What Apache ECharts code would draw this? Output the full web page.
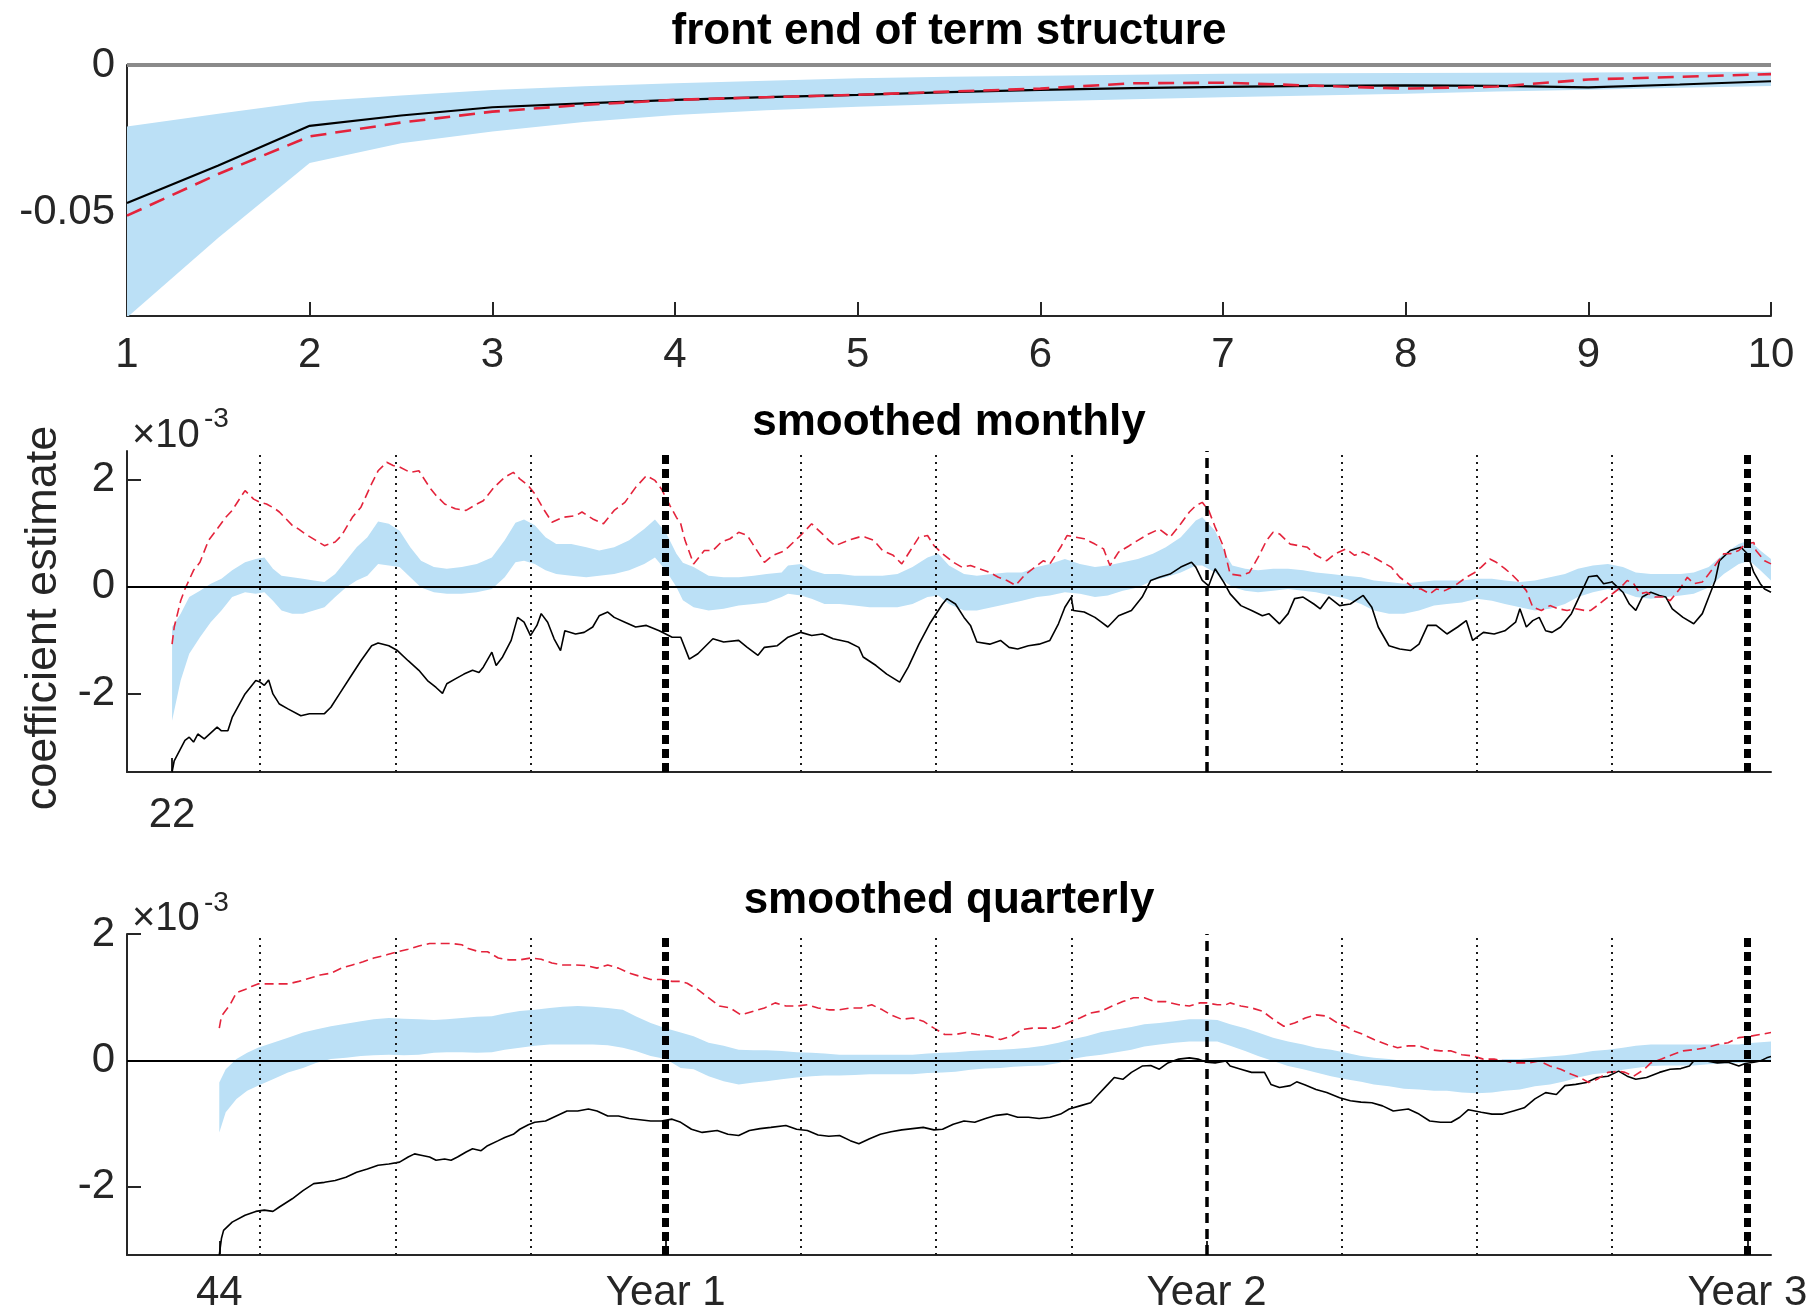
<!DOCTYPE html>
<html><head><meta charset="utf-8">
<script src="https://cdn.jsdelivr.net/npm/echarts@6/dist/echarts.min.js"></script>
<style>html,body{margin:0;padding:0;background:#fff}#c{width:1816px;height:1316px}</style>
</head><body><div id="c"></div>
<script>
// ---------- DATA ----------
// Panel 1: front end of term structure (x = maturity)
const termMaturity = [1, 1.5, 2, 2.5, 3, 3.5, 4, 4.5, 5, 5.5, 6, 6.5, 7, 7.5, 8, 8.5, 9, 9.5, 10];
const termBlack    = [-0.0467,-0.0340,-0.0206,-0.0171,-0.0143,-0.0130,-0.0118,-0.0109,-0.0101,-0.0092,-0.0084,-0.0078,-0.0074,-0.0071,-0.0069,-0.0071,-0.0076,-0.0066,-0.0055];
const termRed      = [-0.0510,-0.0369,-0.0242,-0.0195,-0.0158,-0.0135,-0.0118,-0.0109,-0.0101,-0.0090,-0.0080,-0.0062,-0.0060,-0.0070,-0.0080,-0.0073,-0.0049,-0.0040,-0.0031];
const termBandHigh = [-0.0208,-0.0165,-0.0124,-0.0103,-0.0085,-0.0072,-0.0062,-0.0053,-0.0045,-0.0040,-0.0036,-0.0033,-0.0030,-0.0028,-0.0027,-0.0026,-0.0025,-0.0024,-0.0023];
const termBandLow  = [-0.0855,-0.0585,-0.0332,-0.0265,-0.0225,-0.0193,-0.0169,-0.0153,-0.0141,-0.0132,-0.0124,-0.0116,-0.0109,-0.0103,-0.0097,-0.0090,-0.0084,-0.0077,-0.0071];
const termTicksY = [0, -0.05];

// Panel 2: smoothed monthly, [day, value x1e-3]
const monthlyBlack = [[22,-3.46],[23,-3.25],[28,-2.87],[30,-2.81],[32,-2.90],[34,-2.75],[37,-2.84],[43,-2.62],[45,-2.69],[48,-2.69],
[50,-2.44],[56,-2.00],[61,-1.75],[63,-1.78],[65,-1.84],[67,-1.74],[69,-2.00],[72,-2.19],[76,-2.28],[82,-2.41],
[86,-2.37],[93,-2.37],[96,-2.25],[100,-2.00],[105,-1.69],[110,-1.38],[115,-1.10],[118,-1.05],[123,-1.10],[127,-1.19],
[132,-1.38],[137,-1.56],[141,-1.75],[145,-1.88],[148,-1.99],[150,-1.81],[154,-1.72],[158,-1.63],[162,-1.56],[165,-1.60],
[167,-1.50],[171,-1.22],[173,-1.47],[176,-1.31],[180,-1.00],[183,-0.57],[186,-0.66],[189,-0.91],[192,-0.72],[194,-0.50],
[197,-0.66],[200,-0.97],[203,-1.19],[205,-0.82],[210,-0.88],[214,-0.85],[218,-0.75],[221,-0.54],[225,-0.47],[228,-0.57],
[233,-0.66],[238,-0.75],[243,-0.72],[249,-0.82],[252,-0.88],[255,-0.94],[259,-0.94],[263,-1.35],[267,-1.25],[274,-0.97],
[279,-1.03],[286,-1.00],[290,-1.13],[295,-1.28],[298,-1.13],[304,-1.10],[309,-0.94],[315,-0.85],[320,-0.91],[325,-0.88],
[330,-0.97],[337,-1.03],[342,-1.13],[344,-1.31],[350,-1.47],[355,-1.63],[361,-1.78],[365,-1.50],[370,-1.07],[375,-0.69],
[381,-0.32],[383,-0.22],[387,-0.32],[391,-0.57],[394,-0.72],[397,-1.03],[403,-1.07],[408,-1.00],[412,-1.13],[416,-1.16],
[421,-1.10],[426,-1.07],[431,-1.00],[435,-0.69],[438,-0.38],[441,-0.19],[442,-0.44],[447,-0.47],[452,-0.57],[455,-0.66],
[458,-0.75],[463,-0.54],[469,-0.44],[474,-0.19],[478,0.12],[482,0.18],[487,0.24],[492,0.37],[497,0.46],[499,0.37],
[502,0.12],[505,0.02],[508,0.34],[512,0.09],[515,-0.13],[520,-0.35],[525,-0.44],[530,-0.54],[533,-0.50],[538,-0.69],
[542,-0.50],[545,-0.22],[549,-0.19],[554,-0.32],[557,-0.41],[561,-0.19],[566,-0.35],[571,-0.32],[577,-0.16],[581,-0.38],
[584,-0.75],[589,-1.10],[594,-1.16],[599,-1.19],[603,-1.07],[607,-0.72],[611,-0.72],[616,-0.88],[621,-0.75],[625,-0.63],
[628,-1.00],[633,-0.85],[638,-0.88],[643,-0.82],[648,-0.66],[650,-0.41],[653,-0.75],[656,-0.63],[659,-0.57],[662,-0.82],
[665,-0.85],[669,-0.75],[674,-0.50],[679,-0.07],[682,0.19],[686,0.21],[689,0.06],[693,0.09],[698,-0.10],[701,-0.32],
[704,-0.44],[707,-0.19],[711,-0.10],[715,-0.16],[718,-0.19],[721,-0.41],[726,-0.57],[731,-0.69],[735,-0.50],[738,-0.19],
[741,0.12],[743,0.49],[748,0.68],[753,0.74],[756,0.62],[759,0.27],[762,0.06],[764,-0.04],[767,-0.10]];

const monthlyRed = [[22,-1.07],[23,-0.75],[26,-0.26],[28,-0.04],[32,0.31],[35,0.46],[39,0.87],[43,1.08],[47,1.30],[50,1.43],
[54,1.68],[56,1.80],[60,1.64],[63,1.58],[66,1.55],[70,1.46],[72,1.40],[78,1.15],[81,1.08],[84,0.99],
[89,0.87],[93,0.77],[98,0.84],[101,0.96],[106,1.30],[110,1.49],[115,1.93],[118,2.17],[122,2.33],[125,2.27],
[128,2.24],[133,2.14],[137,2.17],[142,1.86],[145,1.71],[149,1.55],[154,1.46],[159,1.43],[164,1.55],[167,1.61],
[172,1.86],[177,2.05],[181,2.14],[184,2.02],[188,1.89],[191,1.74],[195,1.46],[199,1.21],[204,1.30],[210,1.33],
[213,1.40],[218,1.27],[223,1.18],[228,1.43],[233,1.58],[238,1.86],[243,2.08],[247,1.99],[250,1.83],[254,1.52],
[257,1.30],[259,1.18],[261,0.87],[265,0.43],[270,0.68],[274,0.68],[278,0.84],[282,0.90],[286,1.02],[290,0.96],
[295,0.65],[298,0.46],[302,0.59],[306,0.65],[309,0.74],[314,0.93],[317,1.05],[320,1.18],[325,0.99],[328,0.87],
[331,0.77],[337,0.87],[342,0.93],[345,0.93],[349,0.87],[353,0.68],[358,0.59],[362,0.43],[366,0.68],[370,0.93],
[374,0.96],[377,0.77],[381,0.62],[386,0.46],[390,0.37],[394,0.40],[398,0.34],[403,0.27],[407,0.18],[411,0.12],
[415,0.03],[419,0.21],[424,0.37],[428,0.49],[431,0.43],[436,0.74],[439,0.96],[443,0.93],[447,0.90],[452,0.80],
[456,0.71],[459,0.40],[463,0.65],[468,0.77],[472,0.87],[477,0.99],[482,1.08],[487,0.93],[492,1.18],[496,1.40],
[499,1.52],[502,1.58],[505,1.43],[508,1.12],[512,0.74],[515,0.24],[520,0.21],[524,0.27],[528,0.55],[532,0.87],
[535,1.02],[538,0.99],[543,0.80],[547,0.77],[551,0.74],[555,0.59],[560,0.49],[564,0.62],[569,0.71],[573,0.59],
[577,0.65],[582,0.55],[586,0.46],[590,0.37],[594,0.18],[598,0.06],[601,-0.04],[604,-0.04],[608,-0.13],[611,-0.04],
[615,-0.07],[618,-0.01],[621,0.06],[625,0.18],[629,0.27],[632,0.37],[636,0.52],[639,0.46],[643,0.34],[646,0.24],
[649,0.12],[653,-0.07],[656,-0.38],[660,-0.44],[664,-0.35],[668,-0.41],[672,-0.44],[676,-0.41],[680,-0.44],[683,-0.44],
[687,-0.32],[691,-0.19],[694,-0.10],[697,-0.01],[700,0.12],[703,0.06],[706,-0.13],[709,-0.10],[713,-0.19],[717,-0.19],
[720,-0.26],[725,-0.01],[728,0.18],[731,0.06],[735,0.09],[738,0.24],[742,0.46],[745,0.62],[748,0.62],[752,0.68],
[755,0.80],[759,0.83],[760,0.68],[764,0.49],[767,0.43]];

// [day, lower, upper]
const monthlyBand = [[22,-2.50,-0.75],[26,-1.75,-0.50],[30,-1.25,-0.19],[35,-0.94,-0.07],[40,-0.66,0.06],[45,-0.44,0.15],
[50,-0.19,0.31],[56,-0.10,0.46],[61,-0.13,0.52],[65,-0.10,0.55],[69,-0.26,0.34],[73,-0.44,0.21],[78,-0.50,0.18],
[83,-0.50,0.15],[88,-0.44,0.12],[93,-0.38,0.09],[98,-0.19,0.24],[103,-0.01,0.49],[108,0.12,0.74],[113,0.21,0.93],
[118,0.43,1.22],[123,0.40,1.18],[128,0.37,1.05],[133,0.18,0.74],[138,-0.01,0.49],[144,-0.10,0.37],[150,-0.13,0.34],
[157,-0.13,0.37],[164,-0.10,0.43],[171,-0.04,0.55],[177,0.18,0.87],[182,0.46,1.20],[186,0.49,1.26],[191,0.43,1.15],
[196,0.31,0.93],[201,0.24,0.80],[208,0.21,0.80],[215,0.18,0.74],[221,0.21,0.68],[228,0.24,0.74],[235,0.31,0.87],
[242,0.43,1.08],[247,0.55,1.26],[252,0.31,1.02],[257,0.00,0.62],[260,-0.25,0.45],[265,-0.38,0.37],[272,-0.44,0.21],
[279,-0.41,0.18],[286,-0.35,0.18],[293,-0.32,0.21],[299,-0.29,0.24],[306,-0.19,0.27],[309,-0.13,0.40],[315,-0.16,0.43],
[320,-0.22,0.31],[326,-0.32,0.24],[333,-0.32,0.24],[340,-0.35,0.21],[347,-0.38,0.21],[353,-0.38,0.21],[360,-0.38,0.24],
[367,-0.32,0.37],[374,-0.19,0.55],[379,-0.16,0.62],[384,-0.32,0.40],[391,-0.44,0.24],[397,-0.44,0.21],[404,-0.38,0.24],
[411,-0.32,0.27],[418,-0.26,0.27],[425,-0.19,0.37],[431,-0.16,0.43],[438,-0.10,0.52],[445,-0.13,0.43],[452,-0.19,0.37],
[458,-0.16,0.40],[465,-0.07,0.46],[472,-0.01,0.52],[479,0.12,0.62],[485,0.18,0.74],[492,0.27,0.93],[499,0.40,1.24],
[502,0.40,1.30],[508,0.27,1.05],[513,0.08,0.60],[516,0.00,0.40],[522,-0.07,0.34],[528,-0.10,0.31],[535,-0.07,0.34],
[542,-0.04,0.34],[549,-0.07,0.31],[555,-0.10,0.27],[562,-0.16,0.24],[569,-0.22,0.21],[576,-0.32,0.18],[582,-0.44,0.12],
[589,-0.50,0.09],[596,-0.50,0.06],[603,-0.44,0.09],[610,-0.35,0.12],[616,-0.32,0.12],[623,-0.29,0.12],[630,-0.22,0.15],
[637,-0.26,0.15],[643,-0.32,0.12],[650,-0.38,0.09],[657,-0.44,0.12],[664,-0.41,0.18],[671,-0.32,0.24],[677,-0.19,0.34],
[684,-0.10,0.40],[691,-0.04,0.43],[698,-0.10,0.37],[704,-0.19,0.27],[711,-0.22,0.24],[718,-0.19,0.24],[725,-0.16,0.24],
[731,-0.13,0.27],[738,-0.01,0.37],[745,0.24,0.62],[752,0.43,0.80],[757,0.49,0.87],[762,0.31,0.68],[767,0.12,0.52]];

// Panel 3: smoothed quarterly, [day, value x1e-3]
const quarterlyBlack = [[44,-3.08],[45,-2.82],[46,-2.69],[50,-2.56],[56,-2.45],[61,-2.39],[65,-2.37],[69,-2.39],[72,-2.32],[78,-2.19],
[83,-2.06],[88,-1.95],[93,-1.93],[98,-1.90],[103,-1.85],[108,-1.77],[113,-1.72],[118,-1.66],[123,-1.64],[128,-1.61],
[132,-1.53],[135,-1.48],[138,-1.50],[142,-1.53],[145,-1.58],[149,-1.56],[152,-1.58],[155,-1.53],[159,-1.45],[162,-1.40],
[166,-1.43],[169,-1.35],[174,-1.27],[177,-1.22],[181,-1.17],[184,-1.09],[188,-1.02],[191,-0.98],[196,-0.96],[201,-0.88],
[206,-0.80],[211,-0.80],[216,-0.77],[220,-0.80],[225,-0.88],[230,-0.88],[235,-0.92],[240,-0.94],[245,-0.96],[250,-0.96],
[255,-0.93],[259,-0.98],[264,-1.09],[269,-1.14],[276,-1.11],[281,-1.17],[286,-1.19],[291,-1.11],[296,-1.08],[301,-1.06],
[308,-1.03],[313,-1.09],[318,-1.11],[323,-1.18],[328,-1.20],[333,-1.19],[338,-1.27],[342,-1.32],[347,-1.24],[352,-1.17],
[357,-1.13],[362,-1.10],[367,-1.08],[372,-1.06],[377,-1.10],[381,-1.09],[386,-1.01],[391,-0.96],[396,-0.98],[401,-0.92],
[406,-0.87],[411,-0.85],[416,-0.90],[421,-0.90],[426,-0.92],[431,-0.90],[436,-0.85],[440,-0.77],[445,-0.72],[450,-0.67],
[453,-0.56],[458,-0.38],[461,-0.27],[465,-0.30],[469,-0.19],[474,-0.09],[478,-0.08],[482,-0.14],[486,-0.04],[491,0.02],
[496,0.04],[500,0.02],[504,-0.03],[508,-0.04],[513,-0.01],[515,-0.09],[520,-0.14],[525,-0.19],[531,-0.19],[534,-0.38],
[538,-0.43],[543,-0.40],[546,-0.34],[550,-0.39],[555,-0.46],[560,-0.51],[566,-0.59],[571,-0.64],[576,-0.66],[581,-0.67],
[586,-0.72],[591,-0.80],[598,-0.77],[603,-0.85],[608,-0.96],[613,-0.98],[618,-0.98],[622,-0.90],[626,-0.78],[632,-0.82],
[637,-0.85],[642,-0.85],[647,-0.80],[652,-0.75],[657,-0.61],[662,-0.51],[667,-0.54],[671,-0.40],[676,-0.38],[681,-0.35],
[686,-0.27],[691,-0.25],[696,-0.17],[700,-0.25],[704,-0.30],[709,-0.27],[715,-0.19],[720,-0.14],[725,-0.13],[729,-0.09],
[731,-0.01],[737,-0.01],[742,-0.04],[747,-0.03],[752,-0.09],[755,-0.05],[759,-0.03],[762,-0.01],[765,0.04],[767,0.06]];

const quarterlyRed = [[44,0.51],[45,0.70],[49,0.88],[52,1.07],[56,1.12],[59,1.17],[62,1.21],[66,1.21],[71,1.21],[76,1.21],
[81,1.25],[86,1.30],[91,1.35],[96,1.38],[101,1.46],[106,1.51],[111,1.56],[116,1.62],[122,1.67],[127,1.72],
[132,1.76],[137,1.81],[142,1.85],[147,1.85],[152,1.85],[157,1.83],[160,1.77],[165,1.72],[169,1.72],[174,1.62],
[179,1.59],[184,1.59],[189,1.62],[194,1.60],[199,1.54],[204,1.51],[210,1.51],[215,1.50],[220,1.46],[225,1.51],
[230,1.46],[235,1.38],[240,1.33],[245,1.28],[250,1.28],[255,1.25],[259,1.25],[262,1.22],[267,1.12],[272,0.99],
[277,0.86],[282,0.83],[287,0.72],[293,0.78],[298,0.83],[303,0.91],[308,0.86],[313,0.86],[318,0.88],[323,0.83],
[328,0.80],[333,0.80],[338,0.83],[343,0.83],[348,0.88],[353,0.80],[357,0.72],[362,0.65],[367,0.67],[372,0.62],
[377,0.51],[382,0.41],[387,0.41],[392,0.44],[397,0.41],[403,0.38],[408,0.33],[413,0.38],[418,0.49],[423,0.51],
[428,0.51],[433,0.51],[438,0.57],[441,0.62],[445,0.67],[450,0.75],[455,0.78],[460,0.86],[465,0.93],[470,0.99],
[475,0.99],[480,0.93],[485,0.93],[491,0.88],[496,0.86],[501,0.91],[504,0.91],[509,0.88],[513,0.88],[515,0.91],
[520,0.86],[525,0.83],[530,0.78],[535,0.65],[540,0.54],[545,0.59],[550,0.67],[555,0.72],[560,0.70],[566,0.57],
[569,0.54],[573,0.46],[577,0.41],[582,0.33],[588,0.25],[593,0.20],[598,0.23],[603,0.23],[608,0.17],[613,0.15],
[618,0.15],[623,0.09],[628,0.07],[633,0.02],[638,0.02],[643,-0.01],[648,-0.04],[654,-0.04],[659,-0.01],[664,-0.09],
[669,-0.14],[674,-0.22],[678,-0.27],[682,-0.35],[686,-0.30],[691,-0.19],[696,-0.17],[699,-0.19],[703,-0.25],[708,-0.14],
[711,-0.04],[716,0.02],[721,0.09],[726,0.15],[731,0.17],[737,0.20],[742,0.25],[747,0.28],[752,0.36],[757,0.38],
[762,0.41],[767,0.44]];

const quarterlyBand = [[44,-1.14,-0.35],[47,-0.82,-0.14],[52,-0.61,0.02],[57,-0.48,0.12],[62,-0.40,0.20],[69,-0.30,0.28],
[76,-0.19,0.36],[83,-0.12,0.44],[89,-0.04,0.49],[96,0.02,0.54],[103,0.04,0.58],[110,0.07,0.62],[116,0.08,0.65],
[123,0.09,0.67],[130,0.08,0.66],[137,0.09,0.65],[144,0.12,0.64],[150,0.13,0.65],[157,0.13,0.67],[164,0.12,0.69],
[171,0.13,0.70],[177,0.17,0.74],[184,0.20,0.78],[191,0.23,0.80],[198,0.25,0.83],[204,0.25,0.85],[211,0.25,0.86],
[218,0.25,0.85],[225,0.24,0.83],[232,0.20,0.80],[238,0.15,0.70],[245,0.07,0.59],[252,0.02,0.51],[259,-0.12,0.44],
[265,-0.14,0.38],[272,-0.25,0.28],[279,-0.33,0.23],[286,-0.38,0.17],[293,-0.35,0.16],[299,-0.33,0.16],[306,-0.30,0.15],
[313,-0.27,0.13],[320,-0.25,0.12],[326,-0.24,0.11],[333,-0.24,0.09],[340,-0.23,0.09],[347,-0.22,0.09],[353,-0.22,0.09],
[360,-0.22,0.09],[367,-0.22,0.09],[374,-0.20,0.11],[381,-0.19,0.12],[387,-0.18,0.13],[394,-0.15,0.15],[401,-0.13,0.16],
[408,-0.12,0.17],[414,-0.10,0.18],[421,-0.09,0.20],[428,-0.08,0.23],[435,-0.04,0.28],[441,0.02,0.33],[448,0.06,0.38],
[455,0.09,0.45],[462,0.13,0.49],[469,0.17,0.53],[475,0.22,0.57],[482,0.25,0.59],[489,0.28,0.62],[496,0.30,0.65],
[502,0.30,0.65],[509,0.30,0.64],[515,0.23,0.57],[522,0.15,0.51],[528,0.07,0.44],[535,-0.01,0.36],[542,-0.09,0.30],
[549,-0.14,0.25],[555,-0.19,0.20],[562,-0.25,0.17],[569,-0.30,0.12],[576,-0.34,0.07],[582,-0.38,0.04],[589,-0.41,0.02],
[596,-0.45,-0.01],[603,-0.46,-0.01],[610,-0.48,-0.01],[616,-0.48,-0.01],[623,-0.51,-0.01],[630,-0.52,-0.01],[637,-0.51,-0.01],
[643,-0.48,0.02],[650,-0.46,0.02],[657,-0.41,0.04],[664,-0.38,0.06],[671,-0.33,0.08],[677,-0.27,0.11],[684,-0.22,0.15],
[691,-0.19,0.17],[698,-0.15,0.20],[704,-0.12,0.23],[711,-0.09,0.25],[718,-0.08,0.25],[725,-0.08,0.25],[731,-0.08,0.25],
[738,-0.06,0.25],[745,-0.05,0.25],[752,-0.04,0.25],[759,-0.03,0.28],[767,-0.01,0.30]];

// reference lines and ticks (days)
const quarterMarks = [63, 126, 189, 315, 378, 441, 567, 630, 693];
const yearMarks = [252, 504, 756];
const monthlyTickValues = [22];
const monthlyTickLabels = ['22'];
const quarterlyTickValues = [44, 252, 504, 756];
const quarterlyTickLabels = ['44', 'Year 1', 'Year 2', 'Year 3'];
const smoothTicksY = [-2, 0, 2];

// ---------- CHART ----------
const AX = '#262626';
const FONT = "'Liberation Sans', Arial, Helvetica, sans-serif";
const BAND = '#bbe0f6';
const RED = '#e4233b';
const chart = echarts.init(document.getElementById('c'), null, {renderer: 'canvas'});

const grids = [
  {left: 127, right: 45, top: 65, height: 251},
  {left: 127, right: 45, top: 451, height: 321},
  {left: 127, right: 45, top: 934, height: 321}
];

function xAxisCfg(gi, min, max, extra) {
  return Object.assign({
    type: 'value', gridIndex: gi, min: min, max: max,
    axisLine: {show: true, onZero: false, lineStyle: {color: AX, width: 2}},
    splitLine: {show: false}
  }, extra);
}
function yAxisCfg(gi, min, max, ticks, fmt) {
  return {
    type: 'value', gridIndex: gi, min: min, max: max,
    axisLine: {show: true, onZero: false, lineStyle: {color: AX, width: 2}},
    axisTick: {show: true, inside: true, length: 14, customValues: ticks, lineStyle: {color: AX, width: 2}},
    axisLabel: {show: true, customValues: ticks, margin: 12, color: AX, fontSize: 42, fontFamily: FONT, formatter: fmt},
    splitLine: {show: false}
  };
}

// confidence band: polygon between lower and upper edges, placed through the axes' scales
function bandSeries(gi, rows) {
  return {
    type: 'custom', xAxisIndex: gi, yAxisIndex: gi, silent: true, z: 1, clip: true,
    data: rows.map(r => [r[0], r[1], r[2]]),
    encode: {x: 0, y: [1, 2]},
    renderItem: function (params, api) {
      if (params.dataIndex !== 0) return null;
      const pts = [];
      for (let i = 0; i < rows.length; i++) pts.push(api.coord([rows[i][0], rows[i][2]]));
      for (let i = rows.length - 1; i >= 0; i--) pts.push(api.coord([rows[i][0], rows[i][1]]));
      return {type: 'polygon', shape: {points: pts}, style: {fill: BAND, stroke: null}};
    }
  };
}
function lineSeries(gi, data, color, width, type, z) {
  return {type: 'line', xAxisIndex: gi, yAxisIndex: gi, data: data, symbol: 'none', silent: true,
    lineStyle: {color: color, width: width, type: type}, z: z};
}
function markSeries(gi, x0, lines, z) {
  return {type: 'line', xAxisIndex: gi, yAxisIndex: gi, data: [[x0, 0]], symbol: 'none', silent: true,
    lineStyle: {opacity: 0}, z: z,
    markLine: {silent: true, symbol: ['none', 'none'], label: {show: false}, animation: false,
      emphasis: {disabled: true}, data: lines}};
}
const yearStyles = [
  {type: [9, 5], width: 7, color: '#000'},
  {type: [10, 6], width: 3.5, color: '#000'},
  {type: [9, 5], width: 7, color: '#000'}
];
function verticalLines() {
  const arr = quarterMarks.map(v => ({xAxis: v, lineStyle: {type: [2, 5], width: 2, color: '#1a1a1a'}}));
  yearMarks.forEach((v, i) => arr.push({xAxis: v, lineStyle: yearStyles[i]}));
  return arr;
}

const termPairs = arr => termMaturity.map((m, i) => [m, arr[i]]);
const termBandRows = termMaturity.map((m, i) => [m, termBandLow[i], termBandHigh[i]]);

const series = [
  bandSeries(0, termBandRows),
  markSeries(0, 1, [{yAxis: 0, lineStyle: {type: 'solid', width: 4, color: '#8a8a8a'}}], 2),
  lineSeries(0, termPairs(termBlack), '#000', 2.2, 'solid', 3),
  lineSeries(0, termPairs(termRed), RED, 2.6, [16, 9], 4),

  bandSeries(1, monthlyBand),
  markSeries(1, 22, [{yAxis: 0, lineStyle: {type: 'solid', width: 2, color: '#000'}}], 2),
  lineSeries(1, monthlyBlack, '#000', 1.6, 'solid', 3),
  lineSeries(1, monthlyRed, RED, 1.6, [9, 5], 4),
  markSeries(1, 22, verticalLines(), 5),

  bandSeries(2, quarterlyBand),
  markSeries(2, 44, [{yAxis: 0, lineStyle: {type: 'solid', width: 2, color: '#000'}}], 2),
  lineSeries(2, quarterlyBlack, '#000', 1.6, 'solid', 3),
  lineSeries(2, quarterlyRed, RED, 1.6, [9, 5], 4),
  markSeries(2, 44, verticalLines(), 5)
];

function txt(x, y, text, size, weight, extra) {
  return Object.assign({type: 'text', x: x, y: y, silent: true, z: 10,
    style: {text: text, fontSize: size, fontWeight: weight, fontFamily: FONT, fill: weight === 'bold' ? '#000' : AX,
      align: 'center', verticalAlign: 'middle', textAlign: 'center', textVerticalAlign: 'middle'}}, extra || {});
}
function leftTxt(x, y, text, size) {
  const t = txt(x, y, text, size, 'normal');
  t.style.align = 'left'; t.style.textAlign = 'left';
  return t;
}

const option = {
  animation: false,
  backgroundColor: '#fff',
  grid: grids,
  xAxis: [
    xAxisCfg(0, 1, 10, {interval: 1,
      axisTick: {show: true, inside: true, length: 14, lineStyle: {color: AX, width: 2}},
      axisLabel: {margin: 18, color: AX, fontSize: 42, fontFamily: FONT}}),
    xAxisCfg(1, 1, 767, {
      axisTick: {show: true, inside: true, length: 14, customValues: monthlyTickValues, lineStyle: {color: AX, width: 2}},
      axisLabel: {customValues: monthlyTickValues, margin: 22, color: AX, fontSize: 42, fontFamily: FONT,
        formatter: v => monthlyTickLabels[monthlyTickValues.indexOf(v)]}}),
    xAxisCfg(2, 1, 767, {
      axisTick: {show: true, inside: true, length: 14, customValues: quarterlyTickValues, lineStyle: {color: AX, width: 2}},
      axisLabel: {customValues: quarterlyTickValues, margin: 17, color: AX, fontSize: 42, fontFamily: FONT,
        formatter: v => quarterlyTickLabels[quarterlyTickValues.indexOf(v)]}})
  ],
  yAxis: [
    yAxisCfg(0, -0.085, 0, termTicksY, v => (v === 0 ? '0' : String(v))),
    yAxisCfg(1, -3.46, 2.54, smoothTicksY, v => String(v)),
    yAxisCfg(2, -3.08, 2.0, smoothTicksY, v => String(v))
  ],
  series: series,
  graphic: [
    txt(949, 32, 'front end of term structure', 44, 'bold'),
    txt(949, 423, 'smoothed monthly', 44, 'bold'),
    txt(949, 901, 'smoothed quarterly', 44, 'bold'),
    txt(44, 618, 'coefficient estimate', 45, 'normal', {rotation: Math.PI / 2}),
    leftTxt(132, 436, '\u00d710', 40),
    leftTxt(204, 419, '-3', 28),
    leftTxt(132, 919, '\u00d710', 40),
    leftTxt(204, 903, '-3', 28)
  ]
};
chart.setOption(option);
</script></body></html>
